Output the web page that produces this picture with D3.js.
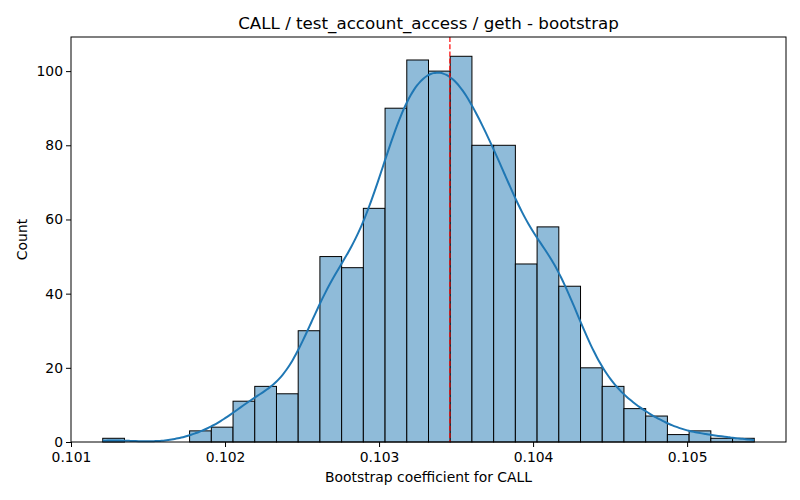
<!DOCTYPE html>
<html lang="en">
<head>
<meta charset="UTF-8">
<title>CALL bootstrap</title>
<script src="https://cdn.jsdelivr.net/npm/d3@7"></script>
<style>
  body { margin: 0; background: #fff; }
  svg text { font-family: "DejaVu Sans", sans-serif; fill: #000; }
</style>
</head>
<body>
<div id="chart"></div>
<script>
// histogram data (30 equal bins)
const binStart = 0.101206;
const binEnd = 0.105436;
const counts = [1, 0, 0, 0, 3, 4, 11, 15, 13, 30, 50, 47, 63, 90, 103, 100, 104, 80, 80, 48, 58, 42, 20, 15, 9, 7, 2, 3, 1, 1];
const refValue = 0.10346;
const xTicks = [0.101, 0.102, 0.103, 0.104, 0.105];
const yTicks = [0, 20, 40, 60, 80, 100];
const titleText = "CALL / test_account_access / geth - bootstrap";
const xLabel = "Bootstrap coefficient for CALL";
const yLabel = "Count";

let W = 800, H = 500;
let padding = { top: 37, left: 71, bottom: 58, right: 14 };
let width = W - padding.left - padding.right;
let height = H - padding.top - padding.bottom;

let svg = d3.select("#chart").append("svg").attr("width", W).attr("height", H);
let focus = svg.append("g").attr("transform", "translate(" + padding.left + "," + padding.top + ")");

let nb = counts.length;
let bw = (binEnd - binStart) / nb;
let bins = counts.map((c, i) => ({ x0: binStart + i * bw, x1: binStart + (i + 1) * bw, c: c }));

let x = d3.scaleLinear().domain([0.101, 0.105642]).range([0, width]);
let y = d3.scaleLinear().domain([0, d3.max(counts) * 1.05]).range([height, 0]);

// bars
focus.selectAll(".bar").data(bins.filter(d => d.c > 0)).enter().append("rect")
  .attr("x", d => x(d.x0))
  .attr("y", d => y(d.c))
  .attr("width", d => x(d.x1) - x(d.x0))
  .attr("height", d => y(0) - y(d.c))
  .attr("fill", "#8fbbd9")
  .attr("stroke", "#000")
  .attr("stroke-width", 1);

// kde from the binned values (gaussian, scott bandwidth), scaled to counts
let n = d3.sum(counts);
let centers = bins.map(d => (d.x0 + d.x1) / 2);
let mean = d3.sum(bins, (d, i) => d.c * centers[i]) / n;
let sd = Math.sqrt(d3.sum(bins, (d, i) => d.c * (centers[i] - mean) ** 2) / (n - 1));
let h = sd * Math.pow(n, -0.2);
let kdeAt = v => d3.sum(bins, (d, i) => d.c * Math.exp(-0.5 * ((v - centers[i]) / h) ** 2)) / (n * h * Math.sqrt(2 * Math.PI));
let grid = d3.range(200).map(i => binStart + (binEnd - binStart) * i / 199);
let kde = grid.map(v => [v, kdeAt(v) * n * bw]);

focus.append("path").datum(kde)
  .attr("fill", "none")
  .attr("stroke", "#1f77b4")
  .attr("stroke-width", 2)
  .attr("d", d3.line().x(d => x(d[0])).y(d => y(d[1])).curve(d3.curveBasis));

// reference line
focus.append("line")
  .attr("x1", x(refValue)).attr("x2", x(refValue))
  .attr("y1", 0).attr("y2", height)
  .attr("stroke", "red").attr("stroke-width", 1.2)
  .attr("stroke-dasharray", "5,2.2");

// axes
let xAxis = d3.axisBottom(x).tickValues(xTicks).tickFormat(d3.format(".3f")).tickSize(5).tickSizeOuter(0);
let yAxis = d3.axisLeft(y).tickValues(yTicks).tickSize(5).tickSizeOuter(0);
let gx = focus.append("g").attr("transform", "translate(0," + height + ")").call(xAxis);
let gy = focus.append("g").call(yAxis);
[gx, gy].forEach(g => {
  g.select(".domain").remove();
  g.selectAll("text").attr("font-size", 13.9).attr("font-family", "DejaVu Sans");
  g.selectAll("line").attr("stroke", "#000");
});
gx.selectAll("text").attr("dy", "0.95em").attr("y", 7);
gy.selectAll("text").attr("x", -8);

// frame
focus.append("rect").attr("width", width).attr("height", height)
  .attr("fill", "none").attr("stroke", "#000").attr("stroke-width", 1);

// texts
svg.append("text").attr("x", padding.left + width / 2).attr("y", 29)
  .attr("text-anchor", "middle").attr("font-size", 16.7).text(titleText);
svg.append("text").attr("x", padding.left + width / 2).attr("y", 482)
  .attr("text-anchor", "middle").attr("font-size", 13.9).text(xLabel);
svg.append("text").attr("transform", "translate(27," + (padding.top + height / 2) + ") rotate(-90)")
  .attr("text-anchor", "middle").attr("font-size", 13.9).text(yLabel);
</script>
</body>
</html>
